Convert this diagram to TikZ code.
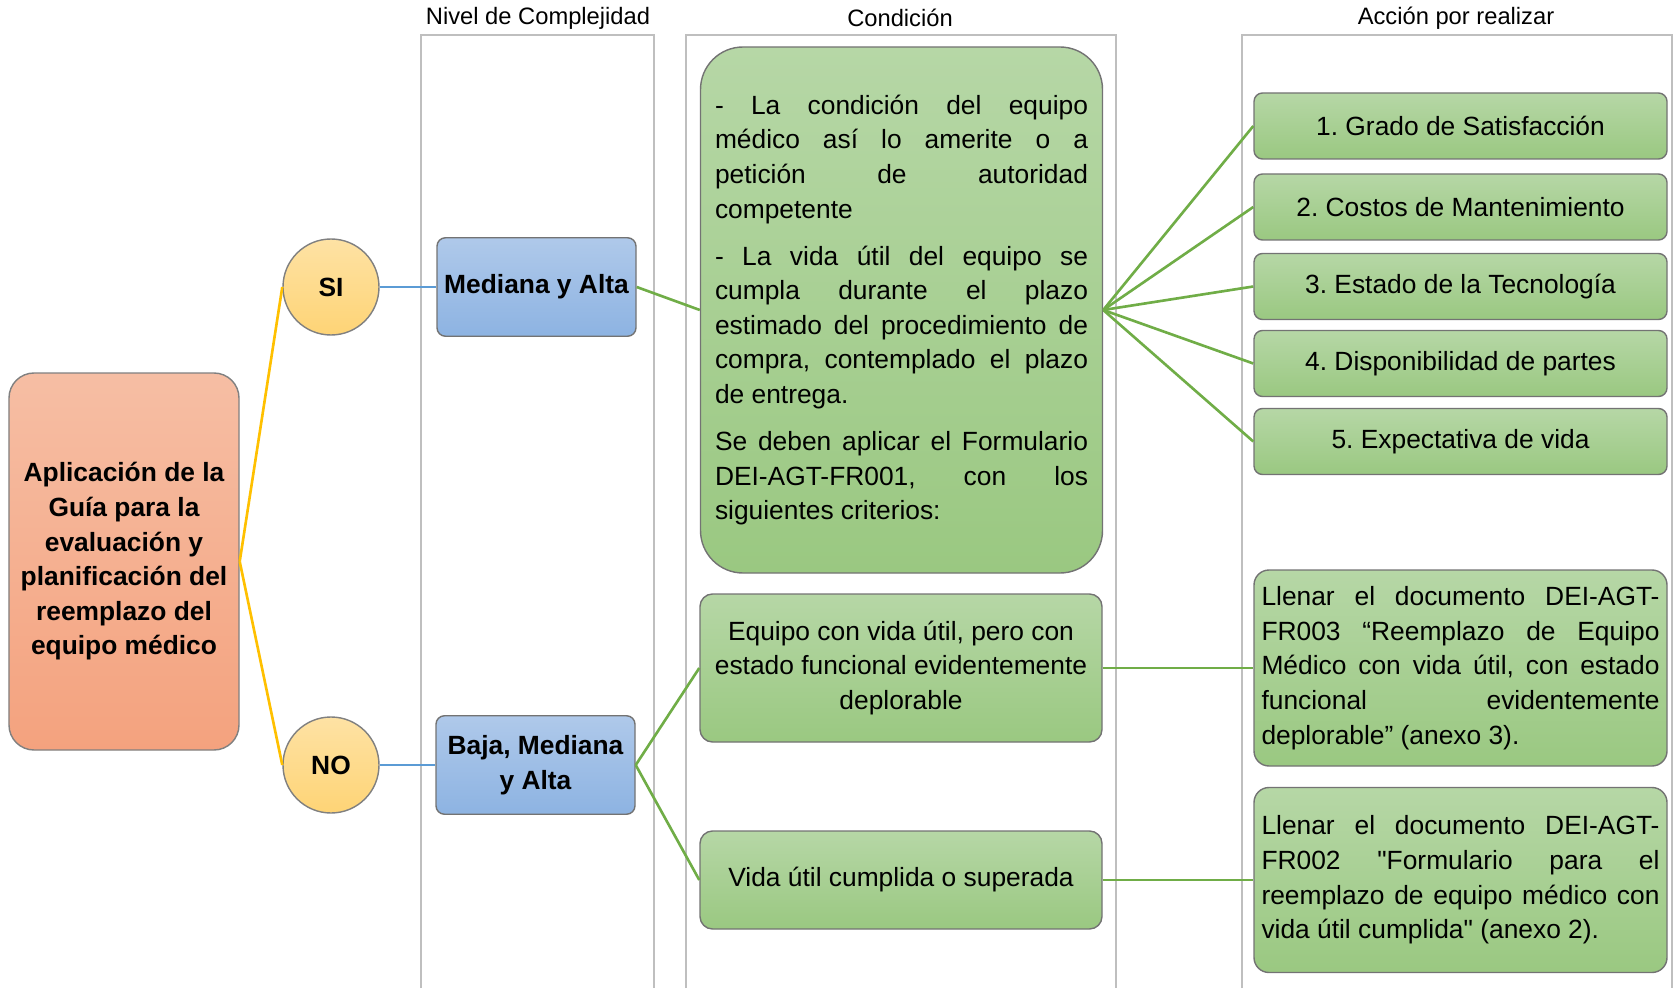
\documentclass[tikz,border=0pt]{standalone}
\usepackage{fontspec}
\setmainfont{Liberation Sans}[Ligatures=TeXOff]
\usetikzlibrary{shapes,arrows,calc,positioning}
\setlength{\parindent}{0pt}
\frenchspacing
\tolerance=10000
\hbadness=10000
\hyphenpenalty=10000
\definecolor{oro}{HTML}{FFC000}
\definecolor{azul}{HTML}{5B9BD5}
\definecolor{verde}{HTML}{70AD47}
\definecolor{gris}{HTML}{BFBFBF}
\definecolor{salmonA}{RGB}{246,190,164}
\definecolor{salmonB}{RGB}{244,162,126}
\definecolor{amarA}{RGB}{254,226,164}
\definecolor{amarB}{RGB}{254,212,118}
\definecolor{celesteA}{RGB}{175,201,234}
\definecolor{celesteB}{RGB}{141,179,226}
\definecolor{pastoA}{RGB}{182,215,166}
\definecolor{pastoB}{RGB}{154,200,129}
\tikzstyle{marco}=[draw=gris, line width=0.6pt]
\tikzstyle{titulo}=[font=\fontsize{13.5}{16}\selectfont]
\tikzstyle{tema}=[rectangle,
                  rounded corners=0.5cm,
                  draw=black!50,
                  line width=0.8pt,
                  top color=salmonA, bottom color=salmonB,
                  minimum width=4.6cm,
                  minimum height=7.54cm,
                  align=center,
                  font=\fontsize{15}{19.7}\selectfont\bfseries]
\tikzstyle{decision}=[circle,
                      draw=black!50,
                      line width=0.8pt,
                      top color=amarA, bottom color=amarB,
                      minimum size=1.92cm,
                      font=\fontsize{15}{19.7}\selectfont\bfseries]
\tikzstyle{nivel}=[rectangle, draw=black!55, line width=0.8pt,
top color=celesteA, bottom color=celesteB,
rounded corners=0.17cm, minimum width=3.98cm, minimum height=1.97cm,
align=center, font=\fontsize{15}{19.7}\selectfont\bfseries]
\tikzstyle{condicion}=[rectangle, draw=black!55, line width=0.8pt,
top color=pastoA, bottom color=pastoB,
rounded corners=0.25cm, minimum width=8.04cm,
align=center, font=\fontsize{15}{19.7}\selectfont]
\tikzstyle{criterio}=[condicion, rounded corners=0.17cm,
minimum width=8.26cm, minimum height=1.32cm]
\tikzstyle{accion}=[condicion, rounded corners=0.3cm,
minimum width=8.26cm, text width=7.96cm, align=justify]
\tikzstyle{lineaoro}=[draw=oro, line width=1.5pt]
\tikzstyle{lineaazul}=[draw=azul, line width=1.5pt]
\tikzstyle{lineaverde}=[draw=verde, line width=1.5pt]

\begin{document}
\begin{tikzpicture}
      \useasboundingbox (0,0) rectangle (33.46,19.76);

      % columnas
      \draw [marco] (8.42,0) -- (8.42,19.06) -- (13.08,19.06) -- (13.08,0);
      \draw [marco] (13.72,0) -- (13.72,19.06) -- (22.32,19.06) -- (22.32,0);
      \draw [marco] (24.84,0) -- (24.84,19.06) -- (33.44,19.06) -- (33.44,0);
      \node [titulo] (t_nivel) at (10.76,19.4) {Nivel de Complejidad};
      \node [titulo] (t_cond) at (18.0,19.4) {Condición};
      \node [titulo] (t_accion) at (29.12,19.4) {Acción por realizar};

      \node [tema] (guia) at (2.48,8.53) {Aplicación de la\\Guía para la\\evaluación y\\planificación del\\reemplazo del\\equipo médico};
      \node [decision] (si) at (6.62,14.02) {SI};
      \node [decision] (no) at (6.62,4.46) {NO};
      \node [nivel, right of=si, node distance=4.11cm] (alta) {Mediana y Alta};
      \node [nivel, right of=no, node distance=4.09cm] (baja) {Baja, Mediana\\y Alta};

      \node [condicion, rounded corners=0.85cm, minimum height=10.52cm, text width=7.46cm, align=justify] (cond) at (18.03,13.56) {- La condición del equipo\linebreak médico así lo amerite o a\linebreak petición de autoridad\linebreak competente\par\vspace{7pt}- La vida útil del equipo se\linebreak cumpla durante el plazo\linebreak estimado del procedimiento de\linebreak compra, contemplado el plazo\linebreak de entrega.\par\vspace{7pt}Se deben aplicar el Formulario\linebreak DEI-AGT-FR001, con los\linebreak siguientes criterios:};
      \node [condicion, minimum height=2.96cm] (deplorable) at (18.02,6.4) {Equipo con vida útil, pero con\\estado funcional evidentemente\\deplorable};
      \node [condicion, minimum height=1.96cm, below of=deplorable, node distance=4.24cm] (cumplida) {Vida útil cumplida o superada};

      \node [criterio] (c_1) at (29.21,17.24) {1. Grado de Satisfacción};
      \node [criterio, below of=c_1, node distance=1.62cm] (c_2) {2. Costos de Mantenimiento};
      \node [criterio, below of=c_2, node distance=1.59cm] (c_3) {3. Estado de la Tecnología};
      \node [criterio, below of=c_3, node distance=1.54cm] (c_4) {4. Disponibilidad de partes};
      \node [criterio, below of=c_4, node distance=1.56cm] (c_5) {5. Expectativa de vida};

      \node [accion, minimum height=3.92cm, right of=deplorable, node distance=11.19cm] (anexo3) {Llenar el documento DEI-AGT-\linebreak FR003 “Reemplazo de Equipo\linebreak Médico con vida útil, con estado\linebreak funcional evidentemente\linebreak deplorable” (anexo 3).};
      \node [accion, minimum height=3.7cm, right of=cumplida, node distance=11.19cm] (anexo2) {Llenar el documento DEI-AGT-\linebreak FR002 "Formulario para el\linebreak reemplazo de equipo médico con\linebreak vida útil cumplida" (anexo 2).};

      \path [lineaoro] (guia.east) edge (si.west);
      \path [lineaoro] (guia.east) edge (no.west);
      \path [lineaazul] (si) edge (alta);
      \path [lineaazul] (no) edge (baja);
      \path [lineaverde] (alta.east) edge (cond.west);
      \foreach \i in {1,...,5}
        \path [lineaverde] (cond.east) edge (c_\i.west);
      \path [lineaverde] (baja.east) edge (deplorable.west);
      \path [lineaverde] (baja.east) edge (cumplida.west);
      \path [lineaverde] (deplorable) edge (anexo3);
      \path [lineaverde] (cumplida) edge (anexo2);
\end{tikzpicture}
\end{document}
